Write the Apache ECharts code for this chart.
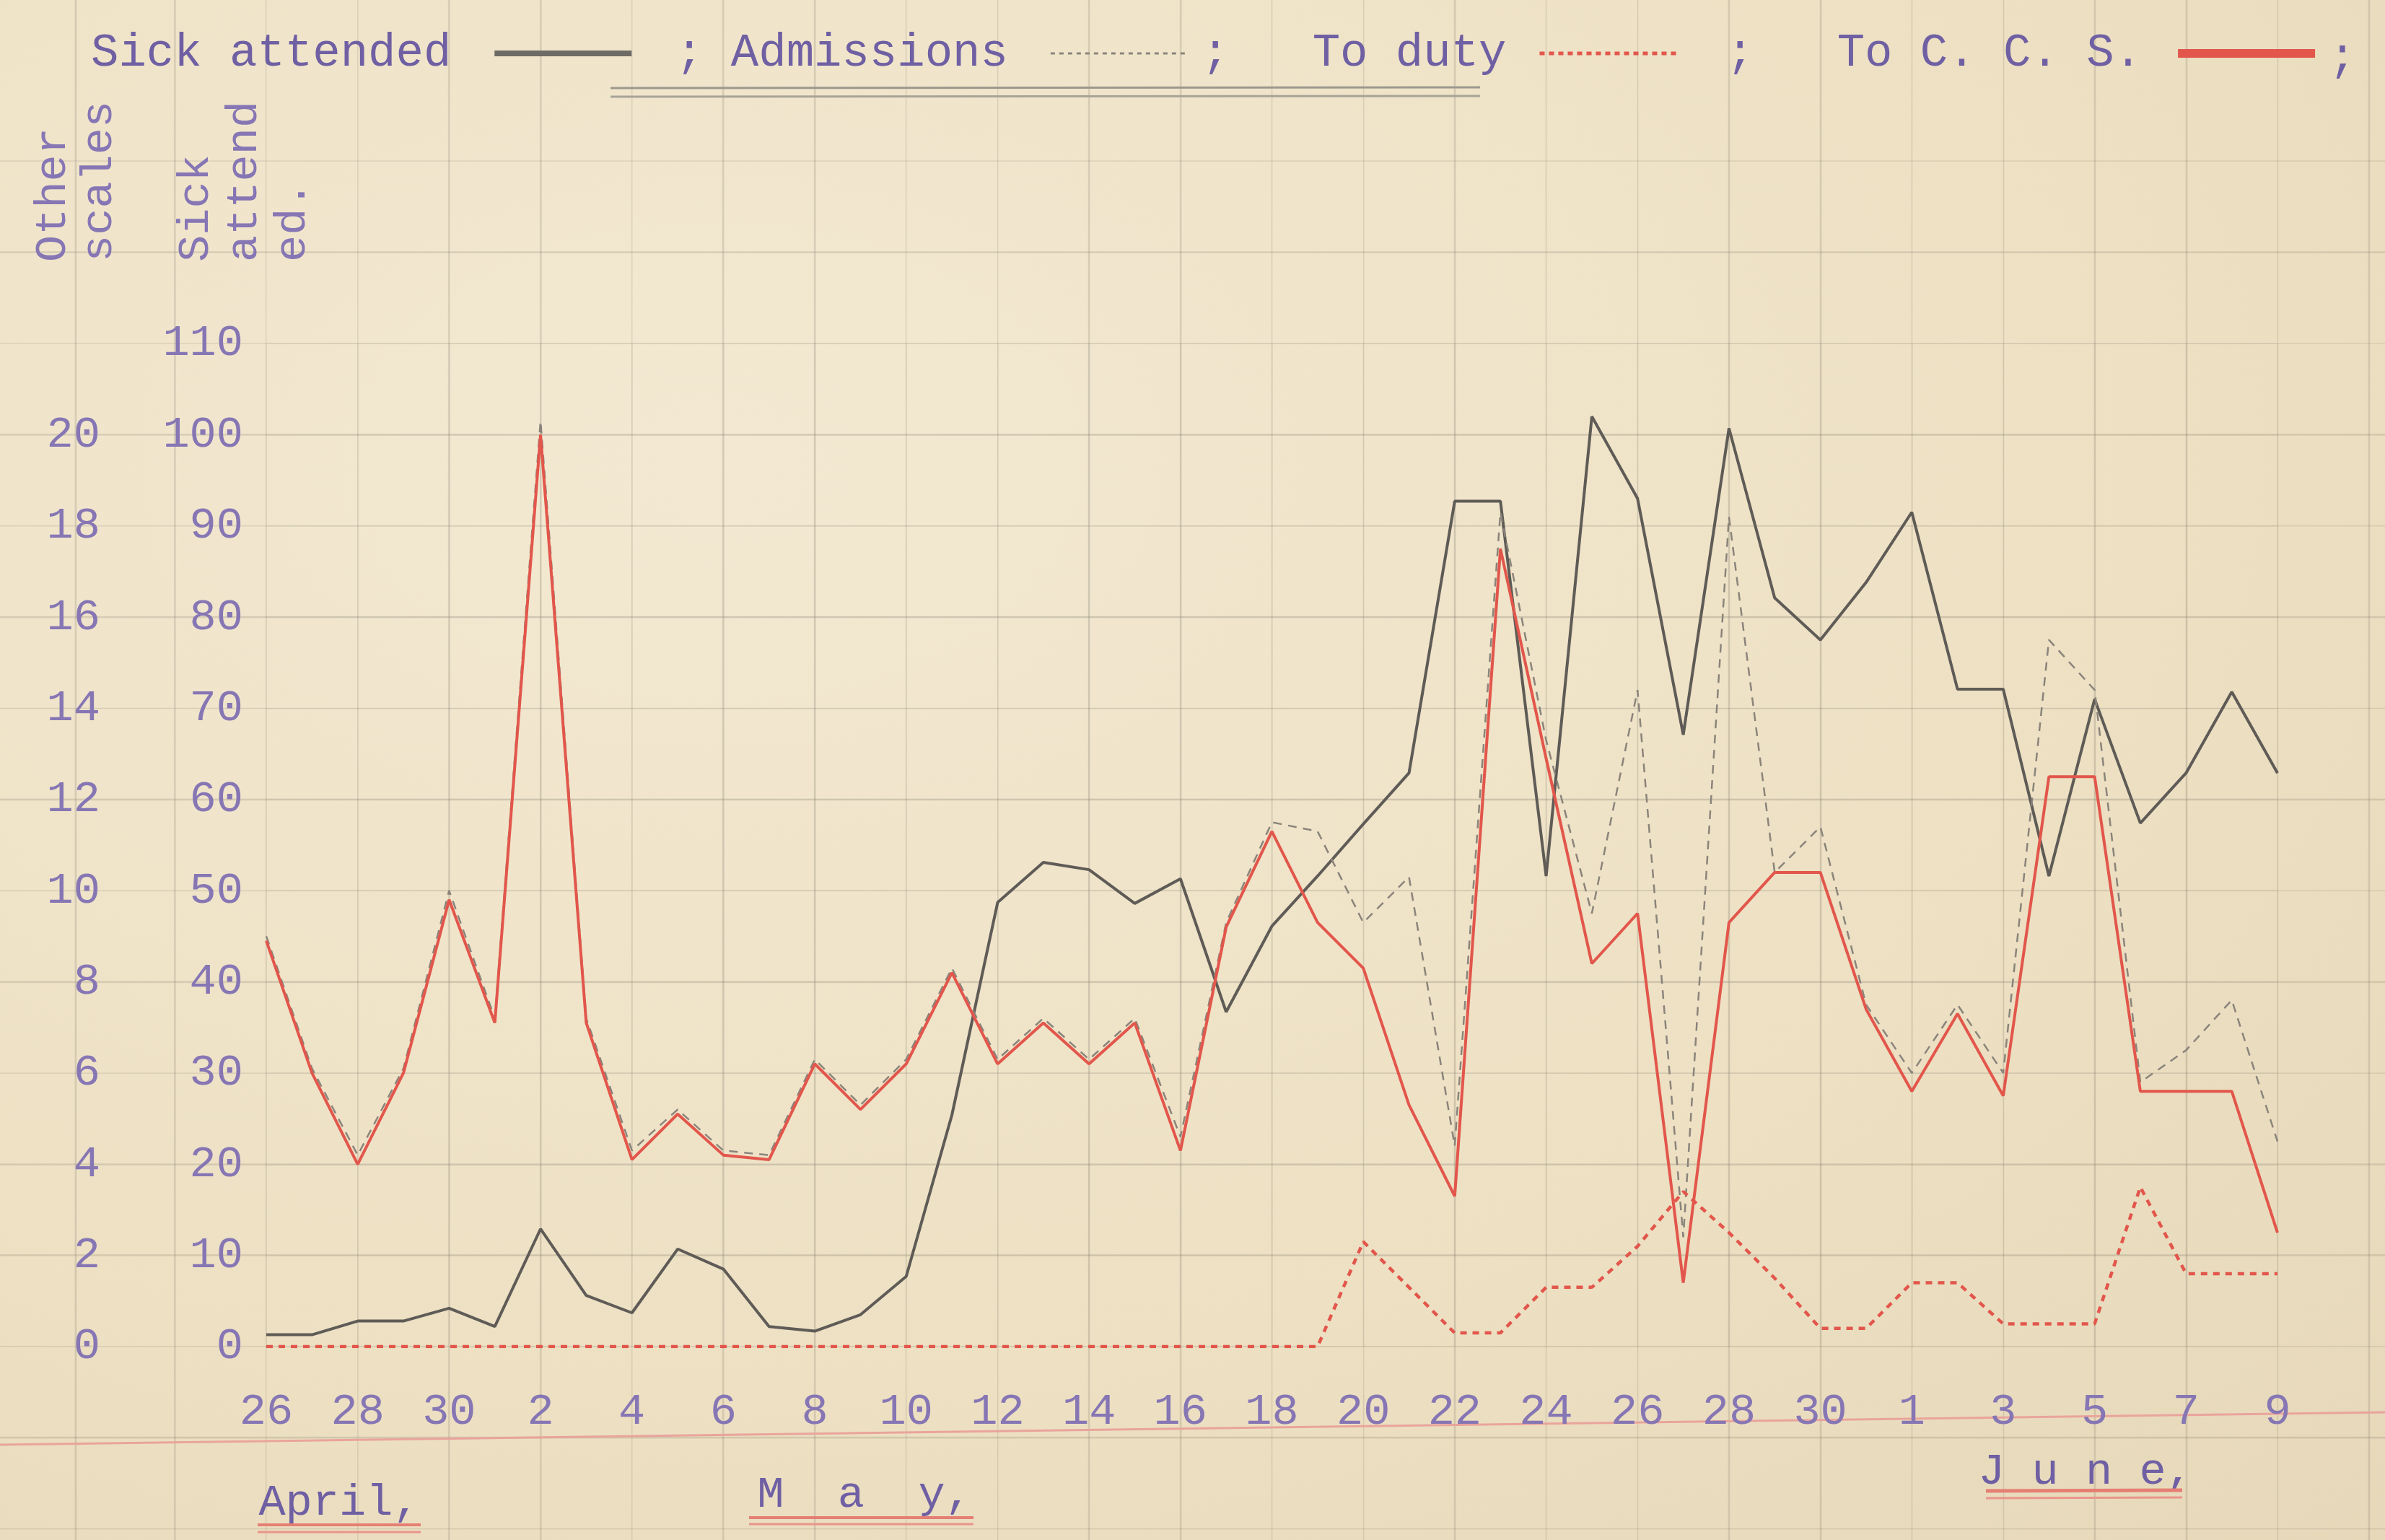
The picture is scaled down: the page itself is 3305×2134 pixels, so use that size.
<!DOCTYPE html>
<html>
<head>
<meta charset="utf-8">
<script src="https://cdn.jsdelivr.net/npm/echarts@6/dist/echarts.min.js"></script>
<style>
  html, body { margin: 0; padding: 0; }
  #main {
    width: 3305px;
    height: 2134px;
    background-color: #efe3c8;
    background-image:
      repeating-linear-gradient(to right, rgba(130,122,108,0) 0px, rgba(130,122,108,0) 124.7px, rgba(130,122,108,0.24) 124.7px, rgba(130,122,108,0.24) 126.7px),
      repeating-linear-gradient(to bottom, rgba(130,122,108,0) 0px, rgba(130,122,108,0) 124.36px, rgba(130,122,108,0.24) 124.36px, rgba(130,122,108,0.24) 126.36px),
      radial-gradient(ellipse at 30% 30%, #f3e9d2 0%, #ede0c3 60%, #e6d8b9 100%);
    background-position: 116.6px 0px, 0px 98px, 0 0;
  }
</style>
</head>
<body>
<div id="main"></div>
<script>
// day of month, 26 April .. 9 June
const days = ['26','27','28','29','30',
  '1','2','3','4','5','6','7','8','9','10','11','12','13','14','15','16',
  '17','18','19','20','21','22','23','24','25','26','27','28','29','30','31',
  '1','2','3','4','5','6','7','8','9'];

const sickAttended = [1.3, 1.3, 2.8, 2.8, 4.2, 2.2, 12.9, 5.6, 3.7, 10.7,
  8.5, 2.2, 1.7, 3.5, 7.7, 25.4, 48.7, 53.1, 52.3, 48.6,
  51.3, 36.7, 46.1, 51.6, 57.3, 62.9, 92.7, 92.7, 51.6, 102.0,
  93.0, 67.1, 100.7, 82.1, 77.5, 83.8, 91.5, 72.1, 72.1, 51.6,
  71.0, 57.4, 62.9, 71.8, 62.9];

const admissions = [9.0, 6.1, 4.2, 6.1, 10.0, 7.2, 20.3, 7.2, 4.3, 5.2,
  4.3, 4.2, 6.3, 5.3, 6.3, 8.3, 6.3, 7.2, 6.3, 7.2,
  4.6, 9.3, 11.5, 11.3, 9.3, 10.3, 4.4, 18.3, 13.3, 9.5,
  14.4, 2.4, 18.2, 10.4, 11.4, 7.5, 6.0, 7.5, 6.0, 15.5,
  14.4, 5.8, 6.5, 7.6, 4.5];

const toDuty = [0, 0, 0, 0, 0, 0, 0, 0, 0, 0,
  0, 0, 0, 0, 0, 0, 0, 0, 0, 0,
  0, 0, 0, 0, 2.3, 1.3, 0.3, 0.3, 1.3, 1.3,
  2.2, 3.4, 2.5, 1.5, 0.4, 0.4, 1.4, 1.4, 0.5, 0.5,
  0.5, 3.5, 1.6, 1.6, 1.6];

const toCCS = [8.9, 6.0, 4.0, 6.0, 9.8, 7.1, 20.0, 7.1, 4.1, 5.1,
  4.2, 4.1, 6.2, 5.2, 6.2, 8.2, 6.2, 7.1, 6.2, 7.1,
  4.3, 9.2, 11.3, 9.3, 8.3, 5.3, 3.3, 17.5, 12.9, 8.4,
  9.5, 1.4, 9.3, 10.4, 10.4, 7.4, 5.6, 7.3, 5.5, 12.5,
  12.5, 5.6, 5.6, 5.6, 2.5];

const months = ['April,', 'M  a  y,', 'J u n e,'];

const ink = '#6f5fa3';
const inkLight = '#8676b4';
// the paper ruling is already in the page background, keep split lines faint
const rule = 'rgba(130,122,108,0.07)';
const typeFont = '"Liberation Mono", "DejaVu Sans Mono", monospace';
const redInk = '#e2564b';

const chart = echarts.init(document.getElementById('main'));

function legendAt(left, name, label, padRight, lineStyle) {
  return {
    left: left,
    top: 42,
    padding: 0,
    align: 'right',
    selectedMode: false,
    itemWidth: 190,
    itemHeight: 20,
    data: [name],
    formatter: () => label,
    lineStyle: lineStyle,
    itemStyle: { opacity: 0 },
    textStyle: {
      color: ink,
      fontFamily: typeFont,
      fontSize: 64,
      padding: [0, padRight, 0, 0]
    }
  };
}

const option = {
  animation: false,
  backgroundColor: 'transparent',
  grid: { left: 369, right: 149, top: 476, bottom: 268 },
  legend: [
    legendAt(126, 'Sick attended', 'Sick attended', 55, { color: '#6e6a64', width: 8, type: 'solid' }),
    legendAt(936, 'Admissions', '; Admissions', 54, { color: '#8a857c', width: 3, type: [6, 6] }),
    legendAt(1665, 'To duty', ';   To duty', 41, { color: redInk, width: 5, type: [7, 6] }),
    legendAt(2392, 'To C. C. S.', ';   To C. C. S.', 45, { color: redInk, width: 12, type: 'solid' })
  ],
  xAxis: {
    type: 'category',
    data: days,
    boundaryGap: false,
    axisLine: { show: false },
    axisTick: { show: false },
    axisLabel: {
      interval: 1,
      margin: 60,
      color: inkLight,
      fontFamily: typeFont,
      fontSize: 62
    },
    splitLine: { show: true, interval: 1, lineStyle: { color: rule, width: 2 } }
  },
  yAxis: [
    {
      type: 'value',
      min: 0,
      max: 22,
      interval: 2,
      position: 'left',
      offset: 198,
      axisLine: { show: false },
      axisTick: { show: false },
      splitLine: { show: false },
      axisLabel: {
        margin: 32,
        padding: [0, 0, 26, 0],
        color: inkLight,
        fontFamily: typeFont,
        fontSize: 62,
        formatter: v => (v > 20 ? '' : String(v))
      }
    },
    {
      type: 'value',
      min: 0,
      max: 110,
      interval: 10,
      position: 'left',
      offset: 0,
      axisLine: { show: false },
      axisTick: { show: false },
      splitLine: { show: true, lineStyle: { color: rule, width: 2 } },
      axisLabel: {
        margin: 32,
        padding: [0, 0, 26, 0],
        color: inkLight,
        fontFamily: typeFont,
        fontSize: 62
      }
    }
  ],
  series: [
    {
      name: 'Sick attended',
      type: 'line',
      yAxisIndex: 1,
      data: sickAttended,
      symbol: 'none',
      itemStyle: { color: '#625e59' },
      lineStyle: { color: '#5f5b56', width: 4 }
    },
    {
      name: 'Admissions',
      type: 'line',
      yAxisIndex: 0,
      data: admissions,
      symbol: 'none',
      itemStyle: { color: '#8d877e' },
      lineStyle: { color: '#8a847b', width: 2.5, type: [12, 9] }
    },
    {
      name: 'To duty',
      type: 'line',
      yAxisIndex: 0,
      data: toDuty,
      symbol: 'none',
      itemStyle: { color: redInk },
      lineStyle: { color: redInk, width: 4.5, type: [9, 8] }
    },
    {
      name: 'To C. C. S.',
      type: 'line',
      yAxisIndex: 0,
      data: toCCS,
      symbol: 'none',
      itemStyle: { color: redInk },
      lineStyle: { color: redInk, width: 4 }
    }
  ],
  graphic: [
    // closing semicolon of the key
    { type: 'text', x: 3246, y: 80, style: { text: ';', fill: ink, fontFamily: typeFont, fontSize: 64, align: 'center', verticalAlign: 'middle' } },
    // pencil double underline under the key
    { type: 'line', shape: { x1: 846, y1: 122, x2: 2051, y2: 121 }, style: { stroke: '#9d988d', lineWidth: 3 } },
    { type: 'line', shape: { x1: 846, y1: 134, x2: 2051, y2: 133 }, style: { stroke: '#a8a397', lineWidth: 3 } },
    // side scale titles
    { type: 'text', x: 42, y: 363, rotation: Math.PI / 2, style: { text: 'Other\nscales', fill: inkLight, fontFamily: typeFont, fontSize: 62, lineHeight: 64, align: 'left', verticalAlign: 'top' } },
    { type: 'text', x: 238, y: 363, rotation: Math.PI / 2, style: { text: 'Sick\nattend\ned.', fill: inkLight, fontFamily: typeFont, fontSize: 62, lineHeight: 67, align: 'left', verticalAlign: 'top' } },
    // red ruled line under the dates
    { type: 'line', shape: { x1: 0, y1: 2002, x2: 3305, y2: 1957 }, style: { stroke: '#e9a49c', lineWidth: 3 } },
    // month names with red underlines
    { type: 'text', x: 470, y: 2083, style: { text: months[0], fill: ink, fontFamily: typeFont, fontSize: 62, align: 'center', verticalAlign: 'middle' } },
    { type: 'text', x: 1198, y: 2072, style: { text: months[1], fill: ink, fontFamily: typeFont, fontSize: 62, align: 'center', verticalAlign: 'middle' } },
    { type: 'text', x: 2890, y: 2040, style: { text: months[2], fill: ink, fontFamily: typeFont, fontSize: 62, align: 'center', verticalAlign: 'middle' } },
    { type: 'line', shape: { x1: 357, y1: 2113, x2: 583, y2: 2113 }, style: { stroke: '#e57f74', lineWidth: 4 } },
    { type: 'line', shape: { x1: 357, y1: 2123, x2: 583, y2: 2123 }, style: { stroke: '#e9958b', lineWidth: 3 } },
    { type: 'line', shape: { x1: 1038, y1: 2103, x2: 1349, y2: 2103 }, style: { stroke: '#e57f74', lineWidth: 4 } },
    { type: 'line', shape: { x1: 1038, y1: 2112, x2: 1349, y2: 2112 }, style: { stroke: '#e9958b', lineWidth: 3 } },
    { type: 'line', shape: { x1: 2752, y1: 2066, x2: 3024, y2: 2065 }, style: { stroke: '#e57f74', lineWidth: 5 } },
    { type: 'line', shape: { x1: 2752, y1: 2076, x2: 3024, y2: 2075 }, style: { stroke: '#e9958b', lineWidth: 3 } }
  ]
};

chart.setOption(option);
</script>
</body>
</html>
